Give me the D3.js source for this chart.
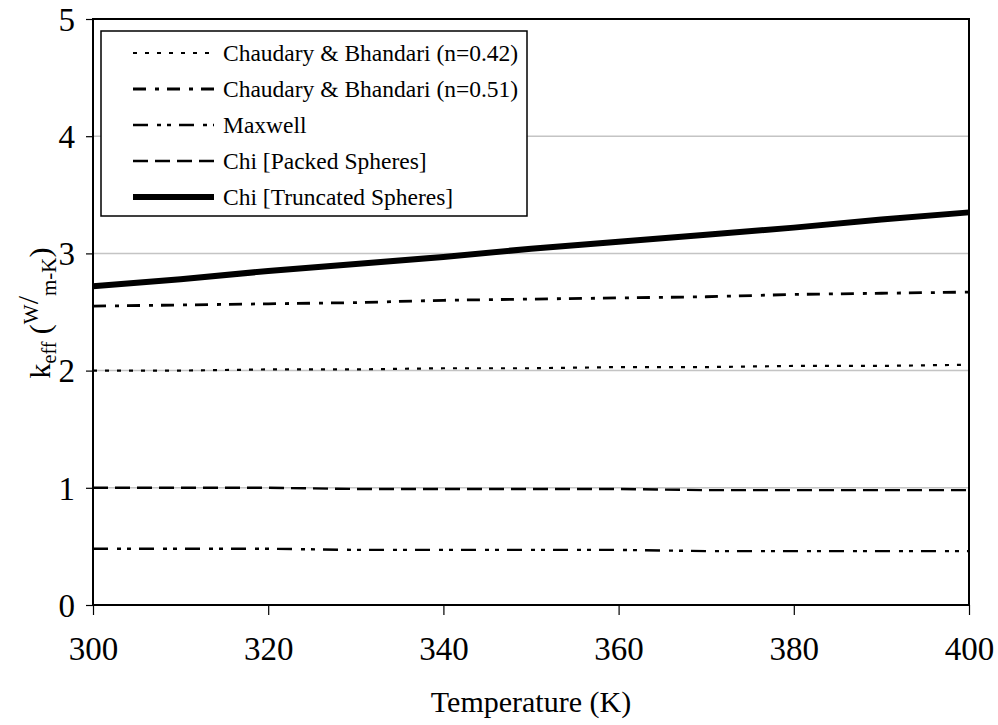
<!DOCTYPE html>
<html>
<head>
<meta charset="utf-8">
<script src="https://cdn.jsdelivr.net/npm/d3@7"></script>
<style>
  html, body { margin: 0; padding: 0; background: #fff; }
  svg { display: block; }
  svg text { font-family: "Liberation Serif", "Times New Roman", serif; fill: #000; }
</style>
</head>
<body>
<svg id="chart" width="998" height="725"></svg>
<script>
// Temperatures (K) at which each model was evaluated
const temperatures = [300, 310, 320, 330, 340, 350, 360, 370, 380, 390, 400];

// Effective thermal conductivity, W/(m-K)
const chaudary042 = [2.00, 2.00, 2.01, 2.01, 2.02, 2.02, 2.03, 2.03, 2.04, 2.04, 2.05];
const chaudary051 = [2.55, 2.56, 2.57, 2.58, 2.60, 2.61, 2.62, 2.63, 2.65, 2.66, 2.67];
const maxwell     = [0.48, 0.48, 0.48, 0.47, 0.47, 0.47, 0.47, 0.46, 0.46, 0.46, 0.46];
const chiPacked   = [1.00, 1.00, 1.00, 0.99, 0.99, 0.99, 0.99, 0.98, 0.98, 0.98, 0.98];
const chiTrunc    = [2.72, 2.78, 2.85, 2.91, 2.97, 3.04, 3.10, 3.16, 3.22, 3.29, 3.35];

const xTicks = [300, 320, 340, 360, 380, 400];
const yTicks = [0, 1, 2, 3, 4, 5];

const seriesNames = [
  "Chaudary & Bhandari (n=0.42)",
  "Chaudary & Bhandari (n=0.51)",
  "Maxwell",
  "Chi [Packed Spheres]",
  "Chi [Truncated Spheres]"
];

const series = [
  { name: seriesNames[0], values: chaudary042, width: 2.2, dash: "4,8" },
  { name: seriesNames[1], values: chaudary051, width: 2.8, dash: "13,9,4,8" },
  { name: seriesNames[2], values: maxwell,     width: 2.4, dash: "15,9,4,6,4,8" },
  { name: seriesNames[3], values: chiPacked,   width: 2.4, dash: "15,7" },
  { name: seriesNames[4], values: chiTrunc,    width: 6,   dash: null }
];

const svg = d3.select("#chart");
const plotLeft = 93, plotRight = 969, plotTop = 19, plotBottom = 605;

const x = d3.scaleLinear().domain([300, 400]).range([plotLeft, plotRight]);
const y = d3.scaleLinear().domain([0, 5]).range([plotBottom, plotTop]);

// horizontal gridlines
svg.append("g")
  .selectAll("line")
  .data(yTicks.filter(d => d > 0 && d < 5))
  .join("line")
  .attr("x1", plotLeft).attr("x2", plotRight)
  .attr("y1", d => y(d)).attr("y2", d => y(d))
  .attr("stroke", "#c4c4c4").attr("stroke-width", 1.5);

// axes
const xAxis = svg.append("g")
  .attr("transform", `translate(0,${plotBottom})`)
  .call(d3.axisBottom(x).tickValues(xTicks).tickSize(10).tickPadding(22).tickFormat(d3.format("d")));
const yAxis = svg.append("g")
  .attr("transform", `translate(${plotLeft},0)`)
  .call(d3.axisLeft(y).tickValues(yTicks).tickSize(7).tickPadding(11).tickFormat(d3.format("d")));

[xAxis, yAxis].forEach(g => {
  g.attr("font-family", null).attr("font-size", null);
  g.select(".domain").remove();
  g.selectAll(".tick line").attr("stroke", "#000").attr("stroke-width", 1.2);
  g.selectAll(".tick text")
    .attr("fill", "#000")
    .style("font-size", "33px");
});
yAxis.selectAll(".tick text").attr("dy", "0.34em");

// series lines
const line = d3.line()
  .x((d, i) => x(temperatures[i]))
  .y(d => y(d));

const plot = svg.append("g");
series.forEach(s => {
  plot.append("path")
    .datum(s.values)
    .attr("d", line)
    .attr("fill", "none")
    .attr("stroke", "#000")
    .attr("stroke-width", s.width)
    .attr("stroke-dasharray", s.dash);
});

// plot frame
svg.append("rect")
  .attr("x", plotLeft).attr("y", plotTop)
  .attr("width", plotRight - plotLeft).attr("height", plotBottom - plotTop)
  .attr("fill", "none").attr("stroke", "#000").attr("stroke-width", 2);

// legend
const legend = svg.append("g");
legend.append("rect")
  .attr("x", 101).attr("y", 31)
  .attr("width", 426).attr("height", 185)
  .attr("fill", "#fff").attr("stroke", "#000").attr("stroke-width", 1.5);

const rowY = d3.scaleLinear().domain([0, 4]).range([53, 197]);
series.forEach((s, i) => {
  const ly = rowY(i);
  legend.append("line")
    .attr("x1", 133).attr("x2", 214)
    .attr("y1", ly).attr("y2", ly)
    .attr("stroke", "#000")
    .attr("stroke-width", s.width)
    .attr("stroke-dasharray", s.dash);
  legend.append("text")
    .attr("x", 223).attr("y", ly)
    .attr("dy", "0.34em")
    .style("font-size", "23.5px")
    .text(s.name);
});

// axis titles
svg.append("text")
  .attr("x", (plotLeft + plotRight) / 2).attr("y", 712)
  .attr("text-anchor", "middle")
  .style("font-size", "30px")
  .text("Temperature (K)");

const yTitle = svg.append("text")
  .attr("transform", "translate(50,313) rotate(-90)")
  .attr("text-anchor", "middle")
  .style("font-size", "30px");
yTitle.append("tspan").text("k");
yTitle.append("tspan").attr("dy", 6).style("font-size", "20px").text("eff");
yTitle.append("tspan").attr("dy", -6).text(" (");
yTitle.append("tspan").attr("dy", -12).style("font-size", "21px").text("W");
yTitle.append("tspan").text("/");
yTitle.append("tspan").attr("dy", 18).style("font-size", "21px").text("m-K");
yTitle.append("tspan").attr("dy", -6).text(")");
</script>
</body>
</html>
